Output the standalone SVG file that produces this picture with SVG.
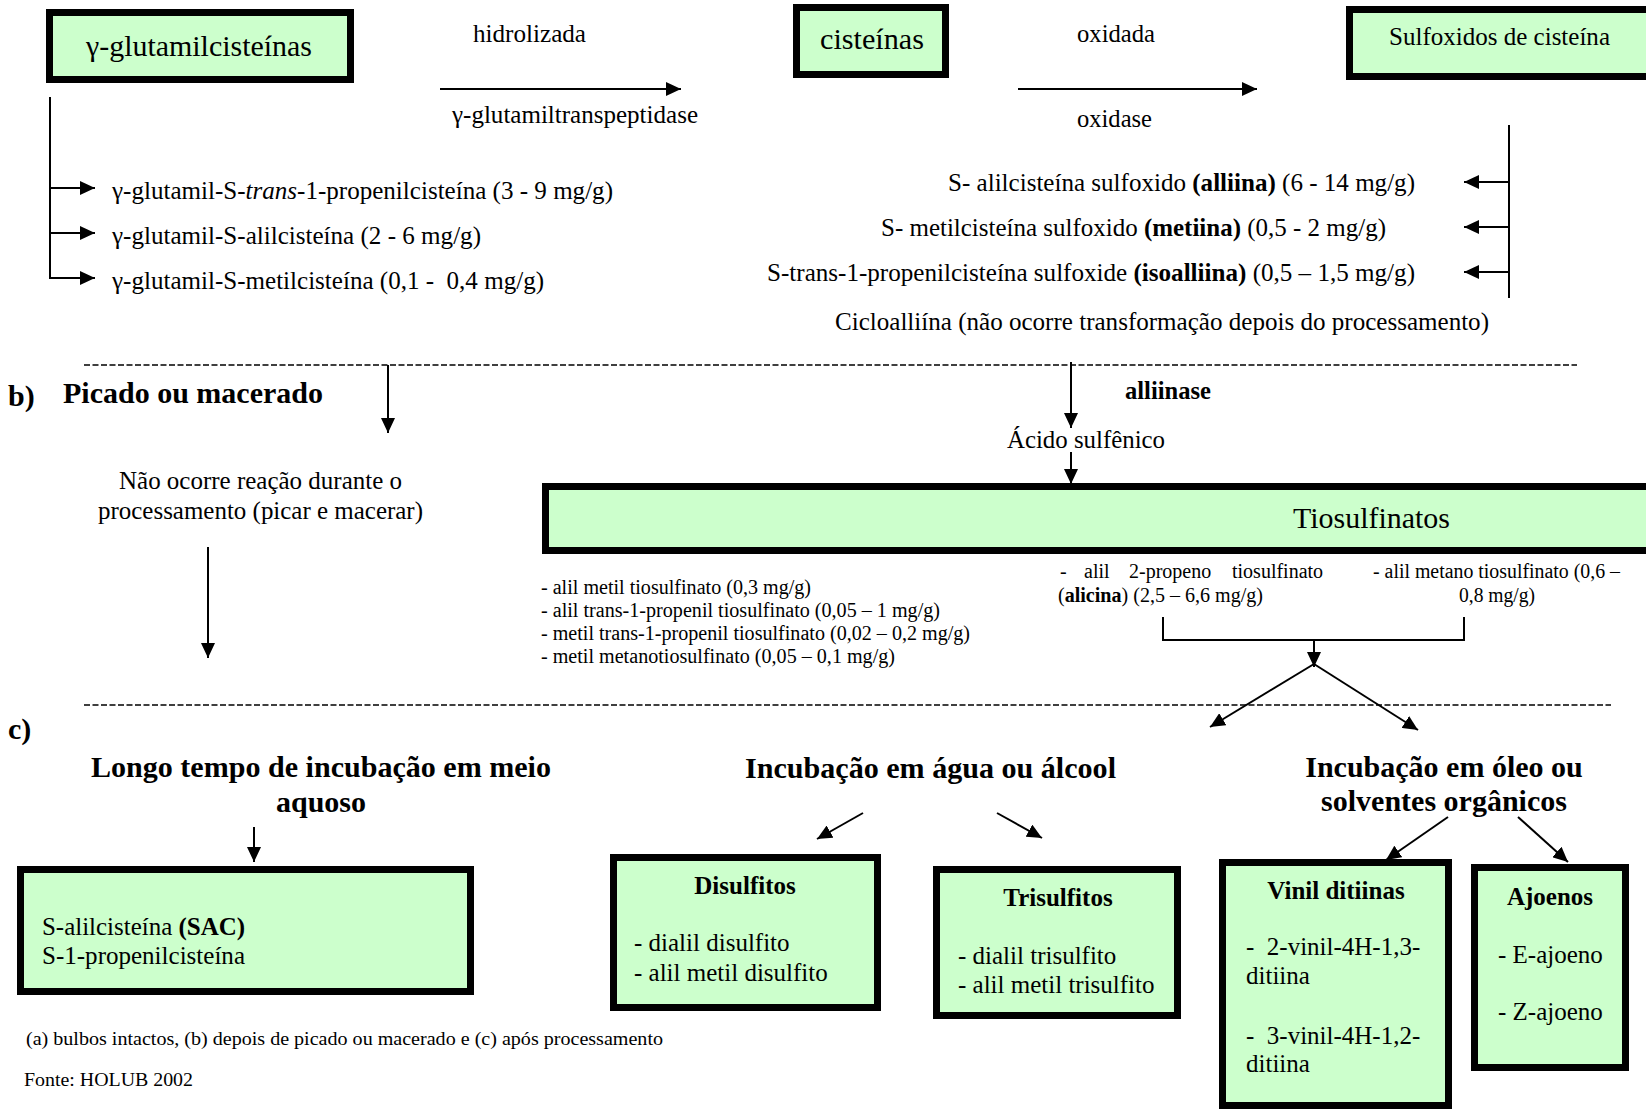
<svg xmlns="http://www.w3.org/2000/svg" width="1646" height="1111" viewBox="0 0 1646 1111">
<style>
text{font-family:"Liberation Serif","Times New Roman",serif;fill:#000}
.b{font-weight:bold}
.f30{font-size:30px}
.f25{font-size:25px}
.f20{font-size:20px}
.f19{font-size:19px}
.box{fill:#CCFFCC;stroke:#000;stroke-width:7}
.ln{stroke:#000;stroke-width:2;fill:none}
.arr{marker-end:url(#ah)}
.dash{stroke:#000;stroke-width:1.5;stroke-dasharray:6 2.5;fill:none}
</style>
<defs>
<marker id="ah" markerUnits="userSpaceOnUse" markerWidth="16" markerHeight="14" refX="15" refY="7" orient="auto">
<path d="M0,0 L15,7 L0,14 z" fill="#000"/>
</marker>
</defs>
<rect width="1646" height="1111" fill="#fff"/>

<g id="connectors">
<path class="ln arr" d="M440,89 L681,89"/>
<path class="ln arr" d="M1018,89 L1257,89"/>
<path class="ln" d="M50,97 L50,278"/>
<path class="ln arr" d="M49,188 L95,188"/>
<path class="ln arr" d="M49,233 L95,233"/>
<path class="ln arr" d="M49,278 L95,278"/>
<path class="ln" d="M1509,125 L1509,298"/>
<path class="ln arr" d="M1510,182 L1464,182"/>
<path class="ln arr" d="M1510,227 L1464,227"/>
<path class="ln arr" d="M1510,272 L1464,272"/>
<path class="ln arr" d="M388,365 L388,433"/>
<path class="ln arr" d="M208,547 L208,658"/>
<path class="ln arr" d="M1071,362 L1071,428"/>
<path class="ln arr" d="M1071,452 L1071,484"/>
<path class="ln" d="M1163,617 L1163,640 L1464,640 L1464,617"/>
<path class="ln arr" d="M1314,640 L1314,667"/>
<path class="ln arr" d="M1314,664 L1210,727"/>
<path class="ln arr" d="M1314,664 L1418,730"/>
<path class="ln arr" d="M254,827 L254,862"/>
<path class="ln arr" d="M863,813 L817,839"/>
<path class="ln arr" d="M997,813 L1042,838"/>
<path class="ln arr" d="M1448,817 L1386,860"/>
<path class="ln arr" d="M1518,817 L1568,862"/>
</g>

<g id="separators">
<path class="dash" d="M84,365 L1577,365"/>
<path class="dash" d="M84,705 L1611,705"/>
</g>

<g id="node-glutamilcisteinas">
<rect class="box" x="49.5" y="12.5" width="301" height="67"/>
<text class="f30" x="86" y="56" textLength="226" lengthAdjust="spacingAndGlyphs">γ-glutamilcisteínas</text>
</g>
<g id="label-hidrolizada">
<text class="f25" x="473" y="42" textLength="113" lengthAdjust="spacingAndGlyphs">hidrolizada</text>
<text class="f25" x="452" y="123" textLength="246" lengthAdjust="spacingAndGlyphs">γ-glutamiltranspeptidase</text>
</g>
<g id="node-cisteinas">
<rect class="box" x="796.5" y="7.5" width="149" height="67"/>
<text class="f30" x="820" y="49" textLength="104" lengthAdjust="spacingAndGlyphs">cisteínas</text>
</g>
<g id="label-oxidada">
<text class="f25" x="1077" y="42" textLength="78" lengthAdjust="spacingAndGlyphs">oxidada</text>
<text class="f25" x="1077" y="127" textLength="75" lengthAdjust="spacingAndGlyphs">oxidase</text>
</g>
<g id="node-sulfoxidos">
<rect class="box" x="1349.5" y="9.5" width="320" height="67"/>
<text class="f25" x="1389" y="45" textLength="221" lengthAdjust="spacingAndGlyphs">Sulfoxidos de cisteína</text>
</g>
<g id="node-glutamil-list">
<text class="f25" x="112" y="199" textLength="501" lengthAdjust="spacingAndGlyphs">γ-glutamil-S-<tspan font-style="italic">trans</tspan>-1-propenilcisteína (3 - 9 mg/g)</text>
<text class="f25" x="112" y="244" textLength="369" lengthAdjust="spacingAndGlyphs">γ-glutamil-S-alilcisteína (2 - 6 mg/g)</text>
<text class="f25" x="112" y="289" textLength="432" lengthAdjust="spacingAndGlyphs" xml:space="preserve">γ-glutamil-S-metilcisteína (0,1 -  0,4 mg/g)</text>
</g>
<g id="node-sulfoxido-list">
<text class="f25" x="948" y="191" textLength="467" lengthAdjust="spacingAndGlyphs">S- alilcisteína sulfoxido <tspan class="b">(alliina)</tspan> (6 - 14 mg/g)</text>
<text class="f25" x="881" y="236" textLength="505" lengthAdjust="spacingAndGlyphs">S- metilcisteína sulfoxido <tspan class="b">(metiina)</tspan> (0,5 - 2 mg/g)</text>
<text class="f25" x="767" y="281" textLength="648" lengthAdjust="spacingAndGlyphs">S-trans-1-propenilcisteína sulfoxide <tspan class="b">(isoalliina)</tspan> (0,5 – 1,5 mg/g)</text>
<text class="f25" x="835" y="330" textLength="654" lengthAdjust="spacingAndGlyphs">Cicloalliína (não ocorre transformação depois do processamento)</text>
</g>

<g id="label-b">
<text class="f30 b" x="8" y="406">b)</text>
<text class="f30 b" x="63" y="403" textLength="260" lengthAdjust="spacingAndGlyphs">Picado ou macerado</text>
</g>
<g id="node-nao-ocorre">
<text class="f25" x="119" y="489" textLength="283" lengthAdjust="spacingAndGlyphs">Não ocorre reação durante o</text>
<text class="f25" x="98" y="519" textLength="325" lengthAdjust="spacingAndGlyphs">processamento (picar e macerar)</text>
</g>
<g id="label-alliinase">
<text class="f25 b" x="1125" y="399" textLength="86" lengthAdjust="spacingAndGlyphs">alliinase</text>
</g>
<g id="node-acido">
<text class="f25" x="1007" y="448" textLength="158" lengthAdjust="spacingAndGlyphs">Ácido sulfênico</text>
</g>
<g id="node-tiosulfinatos">
<rect class="box" x="545.5" y="486.5" width="1120" height="64"/>
<text class="f30" x="1293" y="528" textLength="157" lengthAdjust="spacingAndGlyphs">Tiosulfinatos</text>
</g>
<g id="node-tiosulfinato-list">
<text class="f20" x="541" y="594" textLength="270" lengthAdjust="spacingAndGlyphs">- alil metil tiosulfinato (0,3 mg/g)</text>
<text class="f20" x="541" y="617" textLength="399" lengthAdjust="spacingAndGlyphs">- alil trans-1-propenil tiosulfinato (0,05 – 1 mg/g)</text>
<text class="f20" x="541" y="640" textLength="429" lengthAdjust="spacingAndGlyphs">- metil trans-1-propenil tiosulfinato (0,02 – 0,2 mg/g)</text>
<text class="f20" x="541" y="663" textLength="354" lengthAdjust="spacingAndGlyphs">- metil metanotiosulfinato (0,05 – 0,1 mg/g)</text>
</g>
<g id="node-alicina">
<text class="f20" y="578"><tspan x="1060">-</tspan><tspan x="1084">alil</tspan><tspan x="1129">2-propeno</tspan><tspan x="1232">tiosulfinato</tspan></text>
<text class="f20" x="1058" y="602" textLength="205" lengthAdjust="spacingAndGlyphs">(<tspan class="b">alicina</tspan>) (2,5 – 6,6 mg/g)</text>
</g>
<g id="node-alil-metano">
<text class="f20" x="1373" y="578" textLength="247" lengthAdjust="spacingAndGlyphs">- alil metano tiosulfinato (0,6 –</text>
<text class="f20" x="1459" y="602" textLength="76" lengthAdjust="spacingAndGlyphs">0,8 mg/g)</text>
</g>

<g id="label-c">
<text class="f30 b" x="8" y="739">c)</text>
</g>
<g id="node-longo">
<text class="f30 b" x="91" y="777" textLength="460" lengthAdjust="spacingAndGlyphs">Longo tempo de incubação em meio</text>
<text class="f30 b" x="321" y="812" text-anchor="middle">aquoso</text>
</g>
<g id="node-sac">
<rect class="box" x="20.5" y="869.5" width="450" height="122"/>
<text class="f25" x="42" y="935" textLength="203" lengthAdjust="spacingAndGlyphs">S-alilcisteína <tspan class="b">(SAC)</tspan></text>
<text class="f25" x="42" y="964" textLength="203" lengthAdjust="spacingAndGlyphs">S-1-propenilcisteína</text>
</g>
<g id="node-agua">
<text class="f30 b" x="745" y="778" textLength="371" lengthAdjust="spacingAndGlyphs">Incubação em água ou álcool</text>
</g>
<g id="node-disulfitos">
<rect class="box" x="613.5" y="857.5" width="264" height="150"/>
<text class="f25 b" x="745" y="894" text-anchor="middle">Disulfitos</text>
<text class="f25" x="634" y="951">- dialil disulfito</text>
<text class="f25" x="634" y="981">- alil metil disulfito</text>
</g>
<g id="node-trisulfitos">
<rect class="box" x="936.5" y="869.5" width="241" height="146"/>
<text class="f25 b" x="1058" y="906" text-anchor="middle">Trisulfitos</text>
<text class="f25" x="958" y="964">- dialil trisulfito</text>
<text class="f25" x="958" y="993">- alil metil trisulfito</text>
</g>
<g id="node-oleo">
<text class="f30 b" x="1444" y="777" text-anchor="middle">Incubação em óleo ou</text>
<text class="f30 b" x="1444" y="811" text-anchor="middle">solventes orgânicos</text>
</g>
<g id="node-vinil">
<rect class="box" x="1222.5" y="862.5" width="226" height="243"/>
<text class="f25 b" x="1336" y="899" text-anchor="middle">Vinil ditiinas</text>
<text class="f25" x="1246" y="955" xml:space="preserve">-  2-vinil-4H-1,3-</text>
<text class="f25" x="1246" y="984">ditiina</text>
<text class="f25" x="1246" y="1044" xml:space="preserve">-  3-vinil-4H-1,2-</text>
<text class="f25" x="1246" y="1072">ditiina</text>
</g>
<g id="node-ajoenos">
<rect class="box" x="1474.5" y="867.5" width="151" height="200"/>
<text class="f25 b" x="1550" y="905" text-anchor="middle">Ajoenos</text>
<text class="f25" x="1498" y="963">- E-ajoeno</text>
<text class="f25" x="1498" y="1020">- Z-ajoeno</text>
</g>
<g id="footnotes">
<text class="f19" x="26" y="1045" textLength="637" lengthAdjust="spacingAndGlyphs">(a) bulbos intactos, (b) depois de picado ou macerado e (c) após processamento</text>
<text class="f19" x="24" y="1086" textLength="169" lengthAdjust="spacingAndGlyphs">Fonte: HOLUB 2002</text>
</g>
</svg>
